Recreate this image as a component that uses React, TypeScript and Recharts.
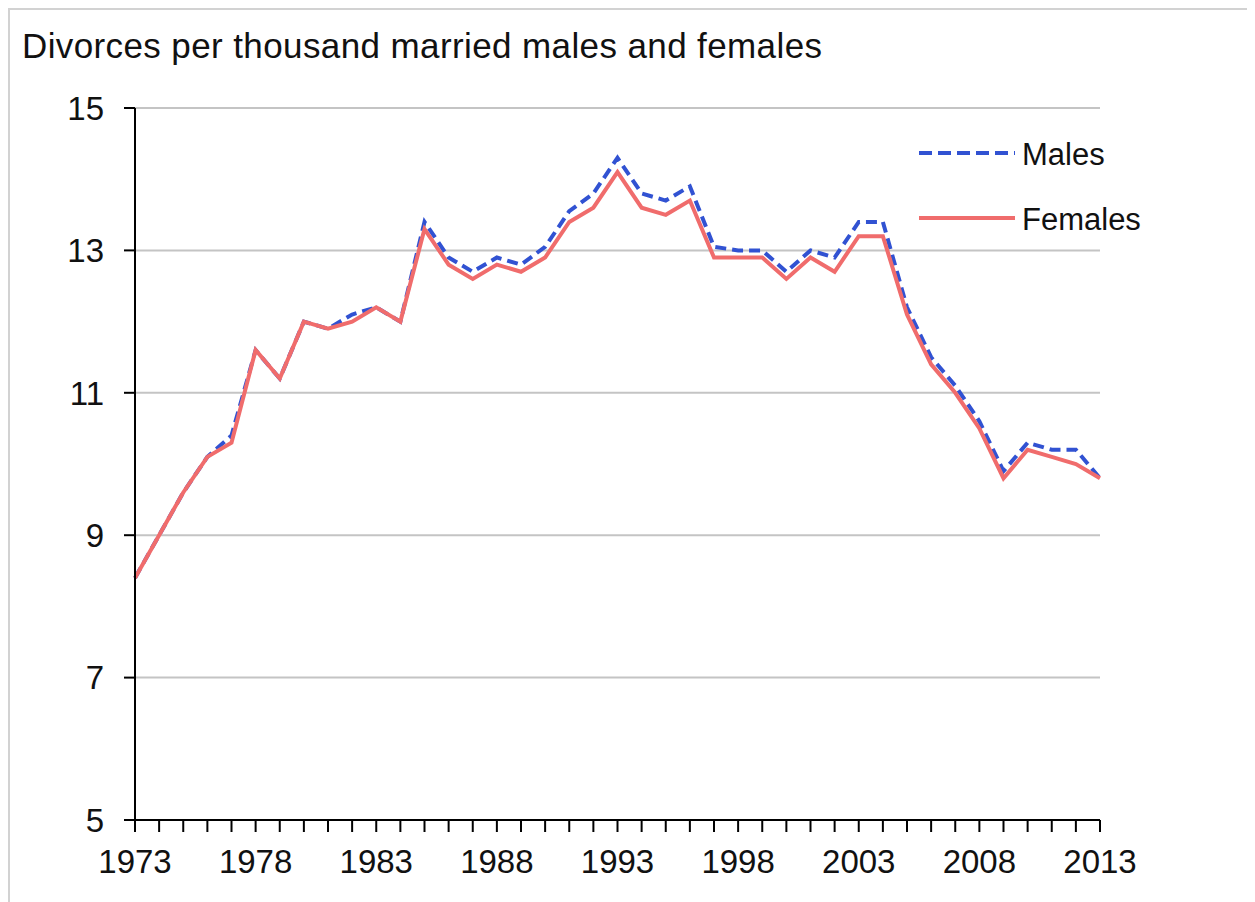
import React from 'react';
import {
  LineChart,
  Line,
  XAxis,
  YAxis,
  CartesianGrid,
  Legend,
} from 'recharts';

// Divorce rates, England and Wales, per thousand married population
const years = [
  1973, 1974, 1975, 1976, 1977, 1978, 1979, 1980, 1981, 1982, 1983, 1984, 1985, 1986,
  1987, 1988, 1989, 1990, 1991, 1992, 1993, 1994, 1995, 1996, 1997, 1998, 1999, 2000,
  2001, 2002, 2003, 2004, 2005, 2006, 2007, 2008, 2009, 2010, 2011, 2012, 2013,
];

const males = [
  8.4, 9.0, 9.6, 10.1, 10.4, 11.6, 11.2, 12.0, 11.9, 12.1, 12.2, 12.0, 13.4, 12.9,
  12.7, 12.9, 12.8, 13.05, 13.55, 13.8, 14.3, 13.8, 13.7, 13.9, 13.05, 13.0, 13.0, 12.7,
  13.0, 12.9, 13.4, 13.4, 12.2, 11.5, 11.1, 10.6, 9.9, 10.3, 10.2, 10.2, 9.8,
];

const females = [
  8.4, 9.0, 9.6, 10.1, 10.3, 11.6, 11.2, 12.0, 11.9, 12.0, 12.2, 12.0, 13.3, 12.8,
  12.6, 12.8, 12.7, 12.9, 13.4, 13.6, 14.1, 13.6, 13.5, 13.7, 12.9, 12.9, 12.9, 12.6,
  12.9, 12.7, 13.2, 13.2, 12.1, 11.4, 11.0, 10.5, 9.8, 10.2, 10.1, 10.0, 9.8,
];

const yTicks = [5, 7, 9, 11, 13, 15];
const labelYears = [1973, 1978, 1983, 1988, 1993, 1998, 2003, 2008, 2013];

const title = 'Divorces per thousand married males and females';

const MALE_COLOR = '#3152d2';
const FEMALE_COLOR = '#f06c6c';
const FONT = '"Liberation Sans", Arial, sans-serif';

const data = years.map((year, i) => ({
  year,
  males: males[i],
  females: females[i],
}));

const renderLegend = () => (
  <svg width={250} height={110}>
    <line x1={4} y1={23} x2={100} y2={23} stroke={MALE_COLOR} strokeWidth={4} strokeDasharray="13 6" />
    <text x={107} y={24} dominantBaseline="central" fontSize={31} fontFamily={FONT} fill="#111">
      Males
    </text>
    <line x1={4} y1={88} x2={100} y2={88} stroke={FEMALE_COLOR} strokeWidth={4} />
    <text x={107} y={89} dominantBaseline="central" fontSize={31} fontFamily={FONT} fill="#111">
      Females
    </text>
  </svg>
);

export default function App() {
  return (
    <div
      style={{
        position: 'relative',
        width: 1245,
        height: 892,
        borderTop: '2px solid #d2d2d2',
        borderLeft: '2px solid #d2d2d2',
        background: '#fff',
      }}
    >
      <svg width={1000} height={80} style={{ position: 'absolute', top: 0, left: 0 }}>
        <text
          x={12}
          y={48}
          fontSize={35}
          fontFamily={FONT}
          fill="#111"
          textLength={800}
          lengthAdjust="spacing"
        >
          {title}
        </text>
      </svg>
      <LineChart
        width={1245}
        height={892}
        data={data}
        margin={{ top: 98, right: 155, bottom: 0, left: 0 }}
      >
        <CartesianGrid vertical={false} stroke="#c4c4c4" strokeWidth={2} />

        <XAxis
          dataKey="year"
          type="number"
          domain={[1973, 2013]}
          ticks={years}
          interval={0}
          height={82}
          stroke="#000"
          strokeWidth={2}
          tickSize={12}
          tickMargin={18}
          tick={{ fill: '#111', fontSize: 33, fontFamily: FONT }}
          tickFormatter={(v: number) => (labelYears.includes(v) ? String(v) : '')}
        />

        <YAxis
          domain={[5, 15]}
          ticks={yTicks}
          interval={0}
          width={125}
          stroke="#000"
          strokeWidth={2}
          tickSize={11}
          tickMargin={20}
          tick={{ fill: '#111', fontSize: 33, fontFamily: FONT }}
        />

        {/* vertical + centre + middle keeps the legend from eating plot space */}
        <Legend
          layout="vertical"
          align="center"
          verticalAlign="middle"
          content={renderLegend}
          wrapperStyle={{ position: 'absolute', top: 120, left: 905, width: 250, height: 110 }}
        />

        {/* males drawn first so the solid female line sits on top */}
        <Line
          type="linear"
          dataKey="males"
          name="Males"
          stroke={MALE_COLOR}
          strokeWidth={4}
          strokeDasharray="11 6"
          dot={false}
          isAnimationActive={false}
        />
        <Line
          type="linear"
          dataKey="females"
          name="Females"
          stroke={FEMALE_COLOR}
          strokeWidth={4}
          dot={false}
          isAnimationActive={false}
        />
      </LineChart>
    </div>
  );
}
